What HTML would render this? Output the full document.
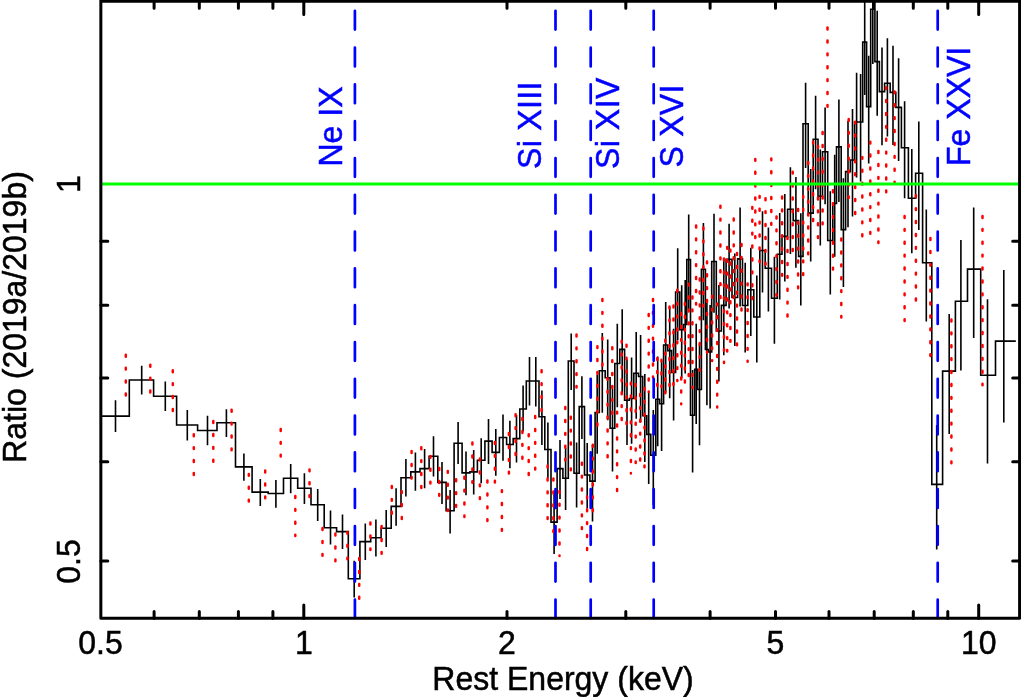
<!DOCTYPE html>
<html><head><meta charset="utf-8"><title>Ratio plot</title>
<style>
html,body{margin:0;padding:0;background:#fff;}
svg{display:block;}
text{font-family:"Liberation Sans",sans-serif;font-size:32px;}
</style></head><body>
<svg width="1021" height="697" viewBox="0 0 1021 697">
<rect width="1021" height="697" fill="#fff"/>
<g fill="none" stroke="#000" stroke-width="1.6" stroke-linejoin="miter">
<path d="M101 416.1H129.3V380H153.6V396.3H176.6V425H197.6V430.5H217V422.7H235.5V466.9H252.1V492.1H268.2V493.5H283.5V478.3H297.7V488.3H311V504.8H324.2V527.8H336.6V531.6H348.3V578.7H359.9V541.6H370.7V537.8H381.1V528.3H391.2V506.4H401V477.8H410.8V471.9H420V468.6H429.1V456.3H437.8V482.4H446.1V510.7H454.1V443.3H462.1V472.9H469.9V471.9H477.4V460.3H484.9V441.1H492.1V452.4H499.4V437.5H506.6V444.5H513.2V438.6H519.8V409H526.3V381H532.6V381H539V416.7H544.8V449.5H551V522.1H557.1V468.6H562.9V478.3H568.3V361H574V473.3H579.2V406.6H584.5V475H589.9V481.1H595.1V412.5H599.3V370.7H605.2V377.7H610.1V428.2H614.8V363.5H619.8V349.4H624.6V400.2H629.3V398.5H633.8V373.2H638.5V376.5H642.7V415.8H646.8V434.4H650.8V455.2H655.8V399.3H659.6V403.7H663.6V345H667.7V350.6H671.6V372.4H675.6V292H679.8V329.6H683.5V324.5H686.8V259.5H690.5V415.3H694.7V369.4H697.6V389.5H701.4V269.3H705.4V349.5H708.4V352H711.7V261.5H716.3V331H721.4V305.4H726.1V259.4H732V297.5H737.6V258.9H742.5V305.5H747.8V289.8H753.8V317H759.8V250.5H765.2V268.2H771.5V298.2H777.3V254.3H782V236.4H787.6V209.3H793.2V220.6H798.6V256.4H803V123.7H808.2V213.1H813.2V139.3H818V196.2H822.5V151.7H827.7V240.5H832.8V203.5H836.5V146.9H841.2V229.6H845.6V171.6H850.4V160H854.6V122H858.5V122H862.7V42.1H866.6V106.6H870.7V9.2H874.9V61.6H879.4V91.6H884.6V83.3H890.2V92.4H895.8V107.4H901.4V147.8H908.4V198.3H915.6V173.2H922.6V262.8H931.8V484.4H942.6V371.1H955.4V301.3H967.5V269.1H980.7V375.2H995.5V341.1H1015.8"/>
<path d="M115.5 400.3V431.9M141.7 365.8V394.6M165.3 381.6V411.1M187.3 410V440.5M207.5 415.8V445.3M226.4 409.2V437M243.9 453.6V480.8M260.3 479.1V506.1M275.9 479.9V507.7M290.7 464.1V493.3M304.4 473.3V504M317.7 489.1V521.1M330.5 510.6V544.6M342.5 514.5V549.1M354.2 560.8V597.4M365.3 523.6V559.9M375.9 519.5V556.6M386.2 510V546.9M396.1 488.3V525.8M405.9 459.1V496.6M415.4 452.4V490.7M424.6 449.1V488.2M433.5 436.3V476.6M442 461.9V504.1M450.1 489.9V533.5M458.1 422.1V464.1M466 451.6V495.2M473.7 450V494.6M481.2 438.3V483.3M488.5 419.1V464.1M495.8 429.1V475.8M503 414.5V460.8M509.9 420.8V468.3M516.5 415V462.4M523.1 385.5V431.6M529.5 356.9V405.5M535.8 356.9V406.5M541.9 390.6V445M547.9 422.5V478M554.1 492V554M560 440V499.1M565.6 448V509.9M571.2 333.4V389.9M576.6 442.5V507.4M581.9 376.2V439M587.2 443V508.3M592.5 445V521.6M597.2 375.1V453.7M602.3 333V412.7M607.7 339.4V420.3M612.5 389V471.4M617.3 323.8V407.2M622.2 309.2V393.6M627 359.5V445M631.6 357.6V443.7M636.2 332V418.7M640.6 334.9V422.3M644.8 373.9V461.9M648.7 392.3V483.9M653.3 410V505M657.7 356.6V446.2M661.6 360.8V450.9M665.7 301.9V392.5M669.7 307.2V398.3M673.6 328.8V420.4M677.7 248.3V340.2M681.7 285.2V378.2M685.2 280V373.5M688.7 214.6V308.9M692.6 370V472.5M696.2 323.8V423.9M699.5 343.5V445.2M703.4 223V320.3M706.9 302.8V405.3M710.1 305V408.6M714 213.7V312.7M718.9 285.1V381.5M723.8 260.1V355.3M729.1 223.7V308.6M734.8 253.5V345.9M740.1 207.5V306.6M745.2 262.7V352.6M750.8 247.7V336.1M756.8 275.6V362.5M762.5 211.3V292.5M768.4 227.4V311.5M774.4 256.7V343.8M779.7 213.1V299.4M784.8 194.1V281.5M790.4 167.2V253.9M795.9 176.9V267.7M800.8 213.3V305.6M805.6 82.7V167.9M810.7 168.9V261.5M815.6 95.7V189.2M820.3 149.6V245.4M825.1 107.4V204.3M830.3 191.3V294.6M834.7 154.8V256.7M838.9 99.4V202.1M843.4 178.2V287M848 120.7V227.2M852.5 109V216.6M856.6 72.8V177.6M860.6 74.1V181.4M864.7 -5V95M868.7 55.8V163.4M872.8 -40V63.9M877.2 10.8V115.8M882 47.5V145.3M887.4 38.3V136.4M893 45.8V144.9M898.6 58.3V161M904.6 101.3V198.3M911.8 149.1V253.3M918.8 121.6V230M926.3 209.6V321.6M936.7 425V549.6M949.2 314.1V434.1M960.9 240V370.4M973.7 207.5V338M987.5 299.2V463.6M1003.8 269.9V422.5"/>
</g>
<path d="M125.8 354.8V395.4M150.3 364.8V392.9M172.8 370.3V411.4M193.8 434.3V475.2M213.3 421.1V461.9M231.6 409.8V450.2M248.8 473.9V501.4M265.2 470.6V498.4M280.7 429V456.4M295.3 496V536M309.5 469.4V497.2M322.5 528.1V555.9M335.4 533.6V561.4M347.4 531.9V559.3M359.2 558.1V598.8M370.4 522.6V550.1M381.6 526.1V553.8M391.8 486V513.8M401.8 491.2V519.3M411.6 451.1V478.4M421.3 447.3V487.9M430.4 455.9V483.7M439.2 468.1V496.2M447.8 470.9V511.1M456.1 479.3V506.8M464.4 476.8V517M472.4 442.6V482.7M479.9 458.6V498.9M487.4 480.6V521M494.9 442V482.7M501.9 490.2V531.3M508.9 433.1V473.4M515.6 414.3V455.1M522.4 418.1V458.9M528.7 434.3V475.1M535.2 416.1V469.7M541.6 370.3V411.4M547.6 465.6V518.9M553.4 478.6V532.1M559.5 490.9V555.9M565.3 407.1V460.6M570.8 416.8V470.7M576.5 334.5V387.6M581.9 462.8V528.9M587.1 496.4V550.1M592.8 444.8V511.4M597.4 346.2V425.4M602.4 299V365.9M607.6 377.9V457.4M612.3 347.3V414.2M617.1 411.7V491.1M621.7 340.7V419.9M626.5 344.8V424.1M630.9 382.7V473.6M635.7 384.1V463.1M640.2 394V460.7M644.5 388V467.7M648.7 314V392.1M653 299V377.6M657.3 358.1V386.4M661.5 359.7V387.2M665.3 339.8V394.1M669.5 306.5V385.8M673.5 305.6V385.2M677.3 289.8V380.9M681.2 313.1V404.2M684.9 303.1V382.4M688.7 283.7V376.2M692.4 296.5V387.9M696.1 225.5V304.4M699.8 278.6V371.4M703.4 227.5V306.6M707 261.4V352.8M712.1 295.8V360.9M717.2 303.4V407.4M720.4 205.8V298.6M724 258.6V363.1M727.2 246.9V351.4M730.4 249.7V341.7M733.7 218.6V297.9M737 253.1V345.2M741.5 244V312.1M747.6 283.4V361.7M752.3 206.9V299.1M755.3 158.9V238M759.6 195.9V262.2M765.5 198.3V265.2M771.3 158.4V225.1M776.5 216.5V296.4M782.1 196.5V275.7M787.5 237.2V316.7M792.7 171.7V250.9M798.1 209V288.8M803.2 195.9V274.9M808.2 162.1V254.2M813.1 141.7V221.4M818 145.9V238.5M822.6 132.1V224.8M827.5 27.6V106.8M833 190.3V270.2M841.3 238.6V317.4M848.7 119V198M855.2 121.7V214.2M862.3 156.9V237.1M870.3 141.7V233.8M878.4 151.1V242.9M886.2 87.2V192.4M894.6 91.4V183.5M904.6 216V321.1M915.9 195.3V300.8M930.4 238.1V355.9M951.4 319.5V463.4M982.5 216V385.2" fill="none" stroke="#f00" stroke-width="2.5" stroke-linecap="round" stroke-dasharray="1.9 11"/>
<path d="M354.9 618V0M555.5 618V0M590.7 618V0M653.7 618V0M937.7 618V0" fill="none" stroke="#00f" stroke-width="2.7" stroke-linecap="round" stroke-dasharray="18.8 18" stroke-dashoffset="0.4"/>
<path d="M154.1 618.3V611.4M154.1 1.3V8.2M199.3 618.3V611.4M199.3 1.3V8.2M238.4 618.3V611.4M238.4 1.3V8.2M272.9 618.3V611.4M272.9 1.3V8.2M303.8 618.3V605M303.8 1.3V14.6M507 618.3V611.4M507 1.3V8.2M625.8 618.3V611.4M625.8 1.3V8.2M710.1 618.3V611.4M710.1 1.3V8.2M775.5 618.3V611.4M775.5 1.3V8.2M829 618.3V611.4M829 1.3V8.2M874.2 618.3V611.4M874.2 1.3V8.2M913.3 618.3V611.4M913.3 1.3V8.2M947.8 618.3V611.4M947.8 1.3V8.2M978.7 618.3V605M978.7 1.3V14.6M100.85 560.9H107.8M1019.6 560.9H1012.7M100.85 461.8H107.8M1019.6 461.8H1012.7M100.85 377.9H107.8M1019.6 377.9H1012.7M100.85 305.3H107.8M1019.6 305.3H1012.7M100.85 241.3H107.8M1019.6 241.3H1012.7" stroke="#000" stroke-width="3" stroke-linecap="round" fill="none"/>
<path d="M101 184H1019" stroke="#0f0" stroke-width="2.8" fill="none"/>
<path d="M100.85 -3V618.3H1019.6V-3M100 1.3H1020" fill="none" stroke="#000" stroke-width="3" stroke-linejoin="round"/>
<g fill="#000" stroke="#000" stroke-width="0.5">
<text transform="translate(100.5 653.9) scale(1 1.045)" text-anchor="middle">0.5</text>
<text transform="translate(304 653.9) scale(1 1.045)" text-anchor="middle">1</text>
<text transform="translate(507 653.9) scale(1 1.045)" text-anchor="middle">2</text>
<text transform="translate(775.5 653.9) scale(1 1.045)" text-anchor="middle">5</text>
<text transform="translate(978.7 653.9) scale(1 1.045)" text-anchor="middle">10</text>
<text transform="translate(563 690.2) scale(1 1.045)" text-anchor="middle">Rest Energy (keV)</text>
<text transform="translate(80.2 561.5) rotate(-90) scale(1 1.045)" text-anchor="middle">0.5</text>
<text transform="translate(80.2 184) rotate(-90) scale(1 1.045)" text-anchor="middle">1</text>
<text transform="translate(25.6 317) rotate(-90) scale(1 1.045)" text-anchor="middle">Ratio (2019a/2019b)</text>
</g>
<g fill="#00f" stroke="#00f" stroke-width="0.5">
<text transform="translate(342.3 166.5) rotate(-90) scale(1 1.045)" text-anchor="start">Ne IX</text>
<text transform="translate(540.9 169) rotate(-90) scale(1 1.045)" text-anchor="start" letter-spacing="0.33">Si XIII</text>
<text transform="translate(619.3 169) rotate(-90) scale(1 1.045)" text-anchor="start" letter-spacing="0.5">Si XIV</text>
<text transform="translate(683.2 167.5) rotate(-90) scale(1 1.045)" text-anchor="start" letter-spacing="0.25">S XVI</text>
<text transform="translate(970 166) rotate(-90) scale(1 1.045)" text-anchor="start">Fe XXVI</text>
</g>
</svg>
</body></html>
